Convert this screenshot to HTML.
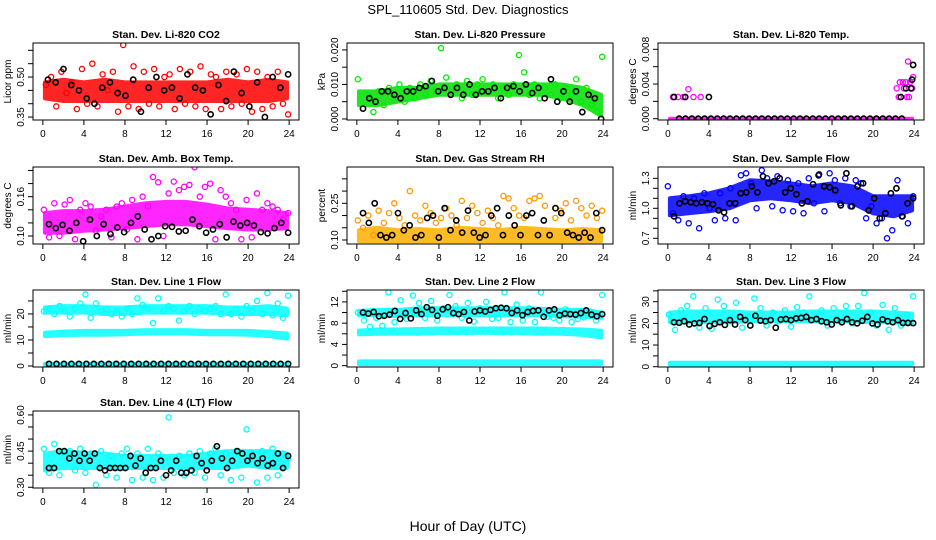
<!DOCTYPE html>
<html><head><meta charset="utf-8">
<style>
html,body{margin:0;padding:0;background:#fff;}
svg{display:block;font-family:"Liberation Sans",Arial,sans-serif;}
</style></head>
<body>
<svg id="chart" width="936" height="540" viewBox="0 0 936 540" xmlns="http://www.w3.org/2000/svg">
<text x="468" y="14" text-anchor="middle" font-size="13">SPL_110605  Std. Dev. Diagnostics</text>
<text x="468" y="531" text-anchor="middle" font-size="14">Hour of Day (UTC)</text>
<g id="panels"></g>
</svg>
<script>
const xTicks = [0,4,8,12,16,20,24];
const bandHours = [0,2,4,6,8,10,12,14,16,18,20,22,24];

const co2BandLo = [0.42,0.41,0.41,0.41,0.41,0.41,0.41,0.41,0.41,0.41,0.41,0.41,0.42];
const co2BandHi = [0.48,0.49,0.48,0.49,0.48,0.48,0.48,0.48,0.48,0.49,0.48,0.49,0.48];
const co2Red = [0.47,0.50,0.39,0.52,0.44,0.48,0.38,0.53,0.40,0.55,0.39,0.51,0.45,0.52,0.37,0.62,0.39,0.54,0.38,0.52,0.40,0.53,0.39,0.50,0.51,0.38,0.53,0.40,0.52,0.39,0.54,0.38,0.51,0.50,0.38,0.52,0.39,0.51,0.40,0.53,0.37,0.52,0.38,0.50,0.39,0.52,0.40,0.36];
const co2Black = [0.49,0.48,0.53,0.47,0.45,0.42,0.40,0.46,0.48,0.44,0.43,0.49,0.37,0.46,0.50,0.45,0.46,0.42,0.51,0.46,0.45,0.36,0.47,0.41,0.52,0.44,0.39,0.48,0.35,0.50,0.46,0.51];

const presBandLo = [0.004,0.004,0.005,0.006,0.007,0.007,0.007,0.007,0.007,0.007,0.006,0.004,0.001];
const presBandHi = [0.008,0.008,0.009,0.009,0.010,0.010,0.010,0.010,0.010,0.010,0.010,0.009,0.007];
const presGreen = [0.0115,0.003,0.007,0.002,0.008,0.004,0.009,0.006,0.010,0.005,0.009,0.006,0.010,0.007,0.011,0.008,0.0205,0.012,0.008,0.010,0.006,0.011,0.007,0.010,0.0115,0.008,0.010,0.006,0.009,0.007,0.010,0.0185,0.0135,0.007,0.010,0.006,0.009,0.007,0.010,0.006,0.009,0.007,0.0115,0.005,0.009,0.004,0.002,0.018];
const presBlack = [0.003,0.006,0.005,0.008,0.008,0.007,0.006,0.008,0.008,0.009,0.0095,0.011,0.008,0.009,0.007,0.009,0.007,0.010,0.007,0.008,0.008,0.009,0.006,0.009,0.0095,0.008,0.010,0.0075,0.009,0.006,0.0115,0.005,0.008,0.005,0.008,0.002,0.007,0.006,0.0];

const tempBandLo = [0,0,0,0,0,0,0,0,0,0,0,0,0];
const tempBandHi = [0,0,0,0,0,0,0,0,0,0,0,0,0];
const tempMagX = [0.5,1,1.5,2,2.5,3.2,22.3,22.6,22.9,23.2,23.4,23.5,23.6,23.8,23.9,23.3,22.5,23.0];
const tempMagY = [0.0025,0.0025,0.0025,0.0034,0.0025,0.0025,0.0035,0.0042,0.0042,0.0042,0.0066,0.0025,0.0042,0.0035,0.0048,0.0025,0.0025,0.0035];
const tempBlackX = [0.6,1.7,4.0,22.7,23.2,23.7,23.9,23.8];
const tempBlackY = [0.0025,0.0025,0.0025,0.0025,0.0035,0.0035,0.0062,0.0045];
const tempBlackZero = [0,0,0,0,0,0,0,0,0,0,0,0,0,0,0,0,0,0,0,0,0,0,0,0,0,0,0,0,0,0,0,0,0,0,0,0];

const boxBandLo = [0.105,0.105,0.108,0.110,0.112,0.115,0.118,0.118,0.115,0.112,0.110,0.110,0.112];
const boxBandHi = [0.135,0.138,0.138,0.140,0.145,0.150,0.152,0.152,0.148,0.142,0.140,0.138,0.135];
const boxMag = [0.140,0.098,0.150,0.100,0.148,0.155,0.095,0.140,0.150,0.145,0.108,0.130,0.140,0.098,0.145,0.150,0.110,0.155,0.095,0.160,0.145,0.190,0.182,0.100,0.165,0.183,0.170,0.175,0.178,0.205,0.160,0.175,0.180,0.095,0.170,0.160,0.150,0.140,0.095,0.155,0.098,0.165,0.140,0.150,0.145,0.140,0.125,0.135];
const boxBlack = [0.118,0.112,0.117,0.108,0.120,0.092,0.125,0.100,0.118,0.103,0.113,0.106,0.120,0.130,0.110,0.095,0.100,0.115,0.114,0.107,0.108,0.125,0.115,0.105,0.110,0.118,0.098,0.122,0.116,0.120,0.116,0.106,0.104,0.112,0.120,0.105];

const rhBandLo = [0.095,0.095,0.095,0.095,0.095,0.095,0.095,0.095,0.095,0.095,0.095,0.095,0.095];
const rhBandHi = [0.14,0.15,0.14,0.145,0.14,0.15,0.145,0.14,0.15,0.145,0.14,0.145,0.14];
const rhOrange = [0.18,0.15,0.20,0.12,0.22,0.17,0.21,0.25,0.19,0.16,0.30,0.20,0.18,0.24,0.21,0.17,0.19,0.23,0.20,0.16,0.26,0.19,0.24,0.21,0.17,0.22,0.19,0.16,0.28,0.27,0.23,0.20,0.19,0.26,0.27,0.28,0.24,0.43,0.19,0.22,0.25,0.18,0.26,0.23,0.20,0.24,0.19,0.22];
const rhBlack = [0.21,0.17,0.25,0.12,0.11,0.12,0.21,0.14,0.16,0.11,0.12,0.19,0.20,0.11,0.23,0.14,0.18,0.13,0.22,0.13,0.11,0.12,0.20,0.23,0.12,0.20,0.16,0.12,0.20,0.21,0.12,0.18,0.12,0.23,0.21,0.13,0.12,0.11,0.13,0.11,0.21,0.14];

const flowBandLo = [0.93,0.95,0.97,1.00,1.08,1.10,1.08,1.05,1.08,1.05,0.95,0.92,0.98];
const flowBandHi = [1.10,1.12,1.15,1.20,1.28,1.27,1.25,1.22,1.25,1.22,1.12,1.12,1.12];
const flowBlue = [1.22,0.95,0.88,1.12,0.85,1.10,0.80,1.15,1.00,0.88,1.15,0.90,1.20,0.88,1.33,1.35,1.25,1.00,1.38,1.30,1.02,1.32,0.98,1.28,0.97,1.25,0.95,1.30,1.05,1.34,0.97,1.35,1.28,1.05,1.30,1.02,1.28,1.25,0.90,1.02,0.85,0.90,0.70,0.78,1.28,0.92,0.85,1.12];
const flowBlack = [0.92,1.05,1.07,1.06,1.05,1.06,1.05,1.04,0.98,0.96,1.05,1.05,1.15,1.16,1.22,1.16,1.32,1.25,1.27,1.30,1.16,1.20,1.14,1.05,1.07,1.24,1.33,1.22,1.21,1.18,1.03,1.35,1.02,1.22,1.25,0.98,1.10,0.90,0.95,1.15,1.20,0.92,1.05,1.10];

const l1UpLo = [20.5,20.5,20.5,20.0,20.0,20.5,20.5,20.5,20.5,20.0,20.0,20.0,19.5];
const l1UpHi = [22.5,23.0,23.0,22.5,22.5,23.0,23.0,23.0,23.0,22.5,22.5,23.0,22.0];
const l1MidLo = [11.5,11.8,12.0,12.0,12.2,12.5,12.5,12.5,12.2,12.2,12.0,11.5,10.5];
const l1MidHi = [12.8,13.2,13.5,13.5,13.5,13.8,13.8,13.8,13.5,13.5,13.5,13.0,12.5];
const l1LowLo = [0.4,0.4,0.4,0.4,0.4,0.4,0.4,0.4,0.4,0.4,0.4,0.4,0.4];
const l1LowHi = [0.8,0.8,0.8,0.8,0.8,0.8,0.8,0.8,0.8,0.8,0.8,0.8,0.8];
const l1Cyan = [21,22,20,23,21,19,22,24,27.5,18.5,24,21,22,20,21,19,22,20,26,23.5,22,16.5,26,21,23,22,17.5,21,23,20,22,21,22,23,20,27.5,20,22,19,23,21,25,20,28,19.5,24,18.5,27];
const l1Black = [0.8,0.8,0.8,0.8,0.8,0.8,0.8,0.8,0.8,0.8,0.8,0.8,0.8,0.8,0.8,0.8,0.8,0.8,0.8,0.8,0.8,0.8,0.8,0.8,0.8,0.8,0.8,0.8,0.8,0.8,0.8,0.8,0.8];

const l2UpLo = [9.5,9.5,9.3,9.5,9.5,9.5,9.5,9.5,9.5,9.5,9.3,9.2,9.0];
const l2UpHi = [10.3,10.5,10.5,10.8,10.8,10.8,10.8,10.8,10.8,10.7,10.5,10.5,10.0];
const l2MidLo = [5.9,6.0,6.0,6.0,6.1,6.1,6.2,6.1,6.1,6.0,6.0,5.8,5.3];
const l2MidHi = [6.6,6.8,6.8,6.9,7.0,7.0,7.0,7.0,7.0,7.0,6.9,6.8,6.6];
const l2LowLo = [0.3,0.3,0.3,0.3,0.3,0.3,0.3,0.3,0.3,0.3,0.3,0.3,0.3];
const l2LowHi = [0.8,0.8,0.8,0.8,0.8,0.8,0.8,0.8,0.8,0.8,0.8,0.8,0.8];
const l2Cyan = [10,8.5,7.3,9,7.5,13.8,8.2,12.3,8.8,13.2,11.8,9,12.2,8.5,10.8,13.3,11.2,9,11.8,8.3,10.8,12,8.8,9,13.8,8.2,11.5,8.5,10.8,8.2,13.8,9.2,9.0,8.5,10.6,8.2,8.8,9.1,10.2,8.5,13.3];
const l2Black = [10,9.8,10.1,9.3,9.4,9.6,10.3,8.8,9.9,8.9,10.4,9.7,11.0,10.5,9.4,10.6,11.0,9.9,9.7,10.1,8.5,10.2,10.4,10.2,10.5,10.8,10.9,10.8,9.9,10.4,9.5,10.1,10.3,10.4,9.2,10.4,10.6,9.5,9.8,9.7,9.6,9.9,10.4,9.6,9.3,9.7];

const l3UpLo = [20.5,20.5,20.5,20.5,21,21,21,21,21,21,20.5,20.5,20];
const l3UpHi = [25,25.5,25.5,25.5,25,25,25,25.5,25.5,25.5,25.5,25,24.5];
const l3LowLo = [1.0,1.0,1.0,1.0,1.0,1.0,1.0,1.0,1.0,1.0,1.0,1.0,1.0];
const l3LowHi = [1.8,1.8,1.8,1.8,1.8,1.8,1.8,1.8,1.8,1.8,1.8,1.8,1.8];
const l3Cyan = [24,17,26,28,32.5,18,27,17.5,31,28,22,29.5,18,23,31.5,27,19,25,21,26,18.5,27.5,25,32.5,22,26,19,27,21,28,20,28,34,25,19,28.5,17,27,19,24,32.5];
const l3Black = [20.5,20.3,21,19.5,20,20.2,22,18.8,19.8,20.5,19.3,21.5,19.5,23,21.5,19,23.5,21.3,21,21.5,18,21.8,22,21.5,22.3,22.5,23,21.5,22,21,20.5,19.5,21.5,20.5,22,20.5,20,21.2,23,20,19.5,21.8,21,20.5,21.5,20.2,20.2,20.1];

const l4BandLo = [0.37,0.38,0.38,0.38,0.38,0.38,0.38,0.38,0.38,0.38,0.39,0.38,0.38];
const l4BandHi = [0.44,0.45,0.44,0.44,0.43,0.43,0.43,0.43,0.44,0.45,0.45,0.45,0.44];
const l4Cyan = [0.46,0.36,0.48,0.35,0.43,0.45,0.37,0.46,0.36,0.44,0.31,0.45,0.35,0.43,0.34,0.44,0.46,0.33,0.44,0.34,0.46,0.33,0.44,0.34,0.59,0.36,0.43,0.35,0.44,0.36,0.45,0.34,0.44,0.46,0.35,0.44,0.33,0.45,0.34,0.54,0.44,0.32,0.45,0.34,0.46,0.35,0.44,0.42];
const l4Black = [0.38,0.38,0.45,0.45,0.42,0.44,0.41,0.44,0.41,0.44,0.38,0.37,0.38,0.38,0.38,0.38,0.43,0.39,0.42,0.36,0.38,0.38,0.41,0.35,0.37,0.41,0.36,0.36,0.37,0.43,0.40,0.37,0.41,0.47,0.42,0.38,0.41,0.45,0.44,0.41,0.43,0.40,0.42,0.39,0.40,0.44,0.38,0.43];

const colLeft = [33,347,658];
const rowTop = [43,167,290,411];
const PW = 266, PH = 77;
const panels = [
 {name:'co2',title:'Stan. Dev. Li-820 CO2',ylab:'Licor ppm',c:0,r:0,ymin:0.339,ymax:0.6275,ticks:[0.35,0.40,0.45,0.50,0.55,0.60],labels:['0.35','0.50'],
  bands:[[co2BandLo,co2BandHi,'#ff0000']],series:[[co2Red,null,'#ff0000',0.3,23.9],[co2Black,null,'#000',0.5,23.9]]},
 {name:'pressure',title:'Stan. Dev. Li-820 Pressure',ylab:'kPa',c:1,r:0,ymin:-0.0003,ymax:0.022,ticks:[0,0.005,0.010,0.015,0.020],labels:['0.000','0.010','0.020'],
  bands:[[presBandLo,presBandHi,'#00e000']],series:[[presGreen,null,'#00ee00',0.1,23.9],[presBlack,null,'#000',0.6,23.8]]},
 {name:'li820-temp',title:'Stan. Dev. Li-820 Temp.',ylab:'degrees C',c:2,r:0,ymin:-0.00015,ymax:0.00873,ticks:[0,0.002,0.004,0.006,0.008],labels:['0.000','0.004','0.008'],
  bands:[[tempBandLo,tempBandHi,'#ff00ff']],series:[[tempBlackZero,null,'#000',1.1,22.8],[tempMagY,tempMagX,'#ff00ff'],[tempBlackY,tempBlackX,'#000']]},
 {name:'box-temp',title:'Stan. Dev. Amb. Box Temp.',ylab:'degrees C',c:0,r:1,ymin:0.0878,ymax:0.2053,ticks:[0.10,0.12,0.14,0.16,0.18,0.20],labels:['0.10','0.16'],
  bands:[[boxBandLo,boxBandHi,'#ff00ff']],series:[[boxMag,null,'#ff00ff',0.1,23.9],[boxBlack,null,'#000',0.6,23.9]]},
 {name:'gas-rh',title:'Stan. Dev. Gas Stream RH',ylab:'percent',c:1,r:1,ymin:0.0836,ymax:0.3985,ticks:[0.10,0.15,0.20,0.25,0.30,0.35],labels:['0.10','0.25'],
  bands:[[rhBandLo,rhBandHi,'#ffb000']],series:[[rhOrange,null,'#ff9900',0.1,23.9],[rhBlack,null,'#000',0.6,23.9]]},
 {name:'sample-flow',title:'Stan. Dev. Sample Flow',ylab:'ml/min',c:2,r:1,ymin:0.643,ymax:1.413,ticks:[0.7,0.8,0.9,1.0,1.1,1.2,1.3],labels:['0.7','1.0','1.3'],
  bands:[[flowBandLo,flowBandHi,'#0000ff']],series:[[flowBlue,null,'#0000ff',0.0,23.9],[flowBlack,null,'#000',0.6,23.9]]},
 {name:'line1-flow',title:'Stan. Dev. Line 1 Flow',ylab:'ml/min',c:0,r:2,ymin:-0.38,ymax:29.2,ticks:[0,5,10,15,20,25],labels:['0','10','20'],
  bands:[[l1UpLo,l1UpHi,'#00ffff'],[l1MidLo,l1MidHi,'#00ffff'],[l1LowLo,l1LowHi,'#00ffff']],series:[[l1Cyan,null,'#00ffff',0.1,23.9],[l1Black,null,'#000',0.6,23.9]]},
 {name:'line2-flow',title:'Stan. Dev. Line 2 Flow',ylab:'ml/min',c:1,r:2,ymin:-0.25,ymax:14.24,ticks:[0,2,4,6,8,10,12,14],labels:['0','4','8','12'],
  bands:[[l2UpLo,l2UpHi,'#00ffff'],[l2MidLo,l2MidHi,'#00ffff'],[l2LowLo,l2LowHi,'#00ffff']],series:[[l2Cyan,null,'#00ffff',0.1,23.9],[l2Black,null,'#000',0.6,23.9]]},
 {name:'line3-flow',title:'Stan. Dev. Line 3 Flow',ylab:'ml/min',c:2,r:2,ymin:-0.14,ymax:35.4,ticks:[0,5,10,15,20,25,30,35],labels:['0','10','20','30'],
  bands:[[l3UpLo,l3UpHi,'#00ffff'],[l3LowLo,l3LowHi,'#00ffff']],series:[[l3Cyan,null,'#00ffff',0.1,23.9],[l3Black,null,'#000',0.6,23.9]]},
 {name:'line4-flow',title:'Stan. Dev. Line 4 (LT) Flow',ylab:'ml/min',c:0,r:3,ymin:0.297,ymax:0.6164,ticks:[0.30,0.35,0.40,0.45,0.50,0.55,0.60],labels:['0.30','0.45','0.60'],
  bands:[[l4BandLo,l4BandHi,'#00ffff']],series:[[l4Cyan,null,'#00ffff',0.1,23.9],[l4Black,null,'#000',0.6,23.9]]}
];

const NS='http://www.w3.org/2000/svg';
const root=document.getElementById('panels');
function mk(tag,attrs,parent){const e=document.createElementNS(NS,tag);for(const k in attrs)e.setAttribute(k,attrs[k]);(parent||root).appendChild(e);return e;}

panels.forEach(p=>{
  const L=colLeft[p.c],T=rowTop[p.r],B=T+PH,R=L+PW;
  const xs=h=>L+(h+0.96)/25.92*PW;
  const ys=v=>B-(v-p.ymin)/(p.ymax-p.ymin)*PH;
  const g=mk('g',{});
  
  
  const cp=mk('clipPath',{id:'clip-'+p.name},g);
  mk('rect',{x:L,y:T,width:PW,height:PH},cp);
  const plot=mk('g',{'clip-path':'url(#clip-'+p.name+')'},g);
  p.bands.forEach(b=>{
    const lo=b[0],hi=b[1];
    let pts=[];
    bandHours.forEach((h,i)=>pts.push(xs(Math.min(Math.max(h,0.2),23.8))+','+ys(hi[i])));
    for(let i=bandHours.length-1;i>=0;i--)pts.push(xs(Math.min(Math.max(bandHours[i],0.2),23.8))+','+ys(lo[i]));
    const poly=mk('polygon',{points:pts.join(' '),fill:b[2],stroke:b[2],'stroke-width':4,'stroke-linejoin':'round',opacity:0.85},plot);
    
    
  });
  p.series.forEach(s=>{
    const vals=s[0],xv=s[1],col=s[2];
    const n=vals.length;
    vals.forEach((v,i)=>{
      const h= xv? xv[i] : s[3]+(n>1? i*(s[4]-s[3])/(n-1):0);
      const c=mk('circle',{cx:xs(h),cy:ys(v),r:2.6,fill:'none',stroke:col,'stroke-width':col==='#000'?1.6:1.3},plot);
      
      
    });
  });
  const box=mk('rect',{x:L,y:T,width:PW,height:PH,fill:'none',stroke:'#000','stroke-width':1},g);
  
  
  const t=mk('text',{x:L+PW/2,y:T-5,'text-anchor':'middle','font-size':10.5,'font-weight':'bold'},g);
  t.textContent=p.title;
  
  
  mk('line',{x1:xs(0),x2:xs(24),y1:B,y2:B,stroke:'#000'},g);
  xTicks.forEach(h=>{
    mk('line',{x1:xs(h),x2:xs(h),y1:B,y2:B+5,stroke:'#000'},g);
    const tl=mk('text',{x:xs(h),y:B+17,'text-anchor':'middle','font-size':10},g);
    tl.textContent=String(h);
    
    
  });
  mk('line',{x1:L,x2:L,y1:ys(p.ticks[0]),y2:ys(p.ticks[p.ticks.length-1]),stroke:'#000'},g);
  p.ticks.forEach(v=>mk('line',{x1:L-5,x2:L,y1:ys(v),y2:ys(v),stroke:'#000'},g));
  p.labels.forEach(lab=>{
    const y=ys(parseFloat(lab));
    const tl=mk('text',{x:L-9,y:y,'text-anchor':'middle','font-size':10,transform:'rotate(-90 '+(L-9)+' '+y+')'},g);
    tl.textContent=lab;
    
    
  });
  const yl=mk('text',{x:L-22,y:T+PH/2,'text-anchor':'middle','font-size':10,transform:'rotate(-90 '+(L-22)+' '+(T+PH/2)+')'},g);
  yl.textContent=p.ylab;
  
  
});
</script>
</body></html>
